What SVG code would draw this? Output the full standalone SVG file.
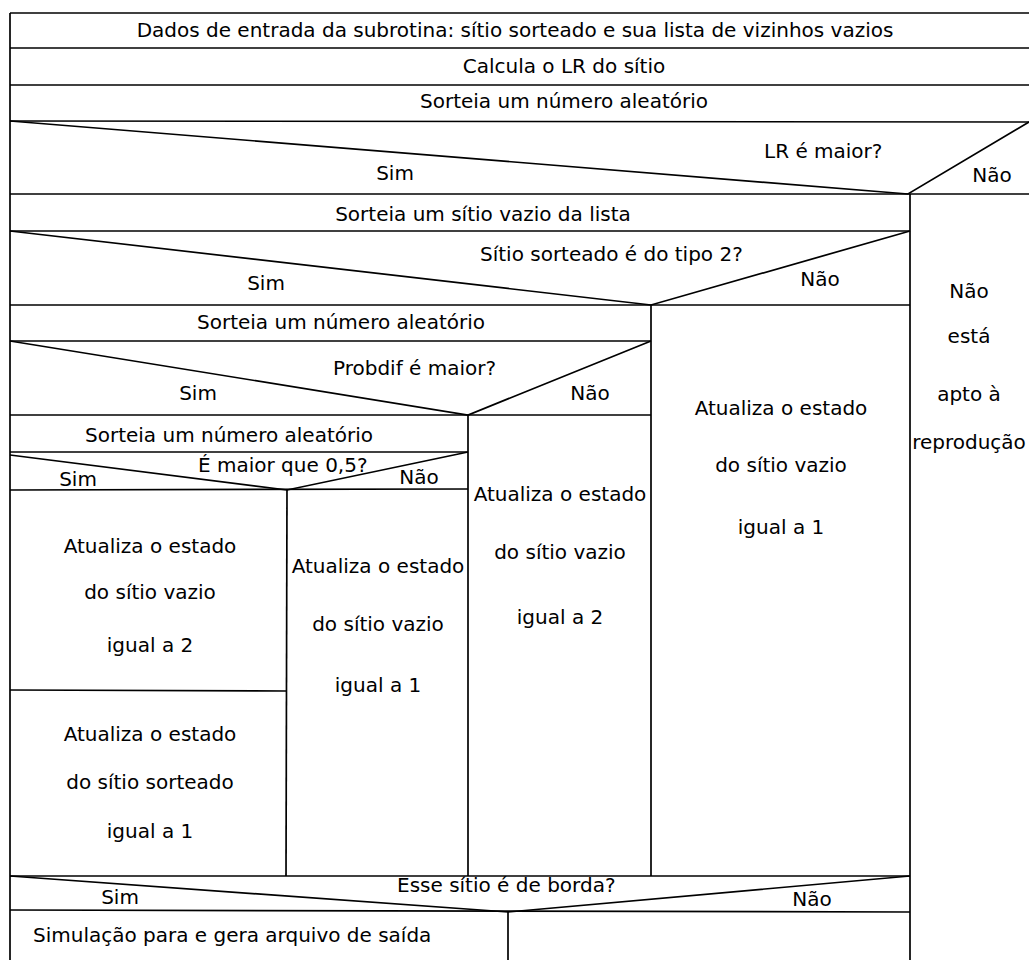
<svg xmlns="http://www.w3.org/2000/svg" width="1029" height="960" viewBox="0 0 1029 960">
<style>
line,polyline{stroke:#000;stroke-width:1.7;fill:none}
text{font-family:"DejaVu Sans","Liberation Sans",sans-serif;font-size:20px;fill:#000}
.m{text-anchor:middle}
</style>
<rect width="1029" height="960" fill="#fff"/>
<g id="frame">
<line x1="10" y1="13" x2="10" y2="960"/>
<line x1="10" y1="13" x2="1029" y2="13"/>
</g>
<g id="input">
<line x1="10" y1="48" x2="1029" y2="48"/>
<text class="m" x="515" y="37">Dados de entrada da subrotina: sítio sorteado e sua lista de vizinhos vazios</text>
</g>
<g id="calc-lr">
<line x1="10" y1="85" x2="1029" y2="85"/>
<text class="m" x="564" y="73">Calcula o LR do sítio</text>
</g>
<g id="random-1">
<line x1="10" y1="121" x2="1029" y2="122"/>
<text class="m" x="564" y="108">Sorteia um número aleatório</text>
</g>
<g id="dec-lr">
<polyline points="10,121 908,194 1029,122"/>
<line x1="10" y1="194" x2="1029" y2="194"/>
<text x="764" y="158">LR é maior?</text>
<text class="m" x="395" y="180">Sim</text>
<text class="m" x="992" y="182">Não</text>
</g>
<g id="not-apt">
<line x1="910" y1="194" x2="910" y2="960"/>
<text class="m" x="969" y="298">Não</text>
<text class="m" x="969" y="343">está</text>
<text class="m" x="969" y="401">apto à</text>
<text class="m" x="969" y="449">reprodução</text>
</g>
<g id="pick-empty">
<line x1="10" y1="231" x2="910" y2="231"/>
<text class="m" x="483" y="221">Sorteia um sítio vazio da lista</text>
</g>
<g id="dec-type2">
<polyline points="10,231 651,305 910,231"/>
<line x1="10" y1="305" x2="910" y2="305"/>
<text x="480" y="261">Sítio sorteado é do tipo 2?</text>
<text class="m" x="266" y="290">Sim</text>
<text class="m" x="820" y="286">Não</text>
</g>
<g id="random-2">
<line x1="10" y1="341" x2="651" y2="341"/>
<text class="m" x="341" y="329">Sorteia um número aleatório</text>
</g>
<g id="dec-probdif">
<polyline points="10,341 468,415 651,341"/>
<line x1="10" y1="415" x2="651" y2="415"/>
<text x="333" y="375">Probdif é maior?</text>
<text class="m" x="198" y="400">Sim</text>
<text class="m" x="590" y="400">Não</text>
</g>
<g id="set-empty-1-right">
<line x1="651" y1="305" x2="651" y2="876"/>
<text class="m" x="781" y="415">Atualiza o estado</text>
<text class="m" x="781" y="472">do sítio vazio</text>
<text class="m" x="781" y="534">igual a 1</text>
</g>
<g id="random-3">
<line x1="10" y1="452" x2="468" y2="452"/>
<text class="m" x="229" y="442">Sorteia um número aleatório</text>
</g>
<g id="dec-half">
<polyline points="10,455 287,490 468,452"/>
<line x1="10" y1="490" x2="468" y2="489"/>
<text x="198" y="472">É maior que 0,5?</text>
<text class="m" x="78" y="486">Sim</text>
<text class="m" x="419" y="484">Não</text>
</g>
<g id="set-empty-2-mid">
<line x1="468" y1="415" x2="468" y2="876"/>
<text class="m" x="560" y="501">Atualiza o estado</text>
<text class="m" x="560" y="559">do sítio vazio</text>
<text class="m" x="560" y="624">igual a 2</text>
</g>
<g id="set-empty-1-mid">
<line x1="287" y1="490" x2="286" y2="876"/>
<text class="m" x="378" y="573">Atualiza o estado</text>
<text class="m" x="378" y="631">do sítio vazio</text>
<text class="m" x="378" y="692">igual a 1</text>
</g>
<g id="set-empty-2-left">
<line x1="10" y1="690" x2="286" y2="691"/>
<text class="m" x="150" y="553">Atualiza o estado</text>
<text class="m" x="150" y="599">do sítio vazio</text>
<text class="m" x="150" y="652">igual a 2</text>
</g>
<g id="set-picked-1">
<text class="m" x="150" y="741">Atualiza o estado</text>
<text class="m" x="150" y="789">do sítio sorteado</text>
<text class="m" x="150" y="838">igual a 1</text>
</g>
<g id="dec-border">
<line x1="10" y1="876" x2="910" y2="876"/>
<polyline points="10,876 508,912 910,876"/>
<line x1="10" y1="910" x2="910" y2="912"/>
<text x="397" y="892">Esse sítio é de borda?</text>
<text class="m" x="120" y="904">Sim</text>
<text class="m" x="812" y="906">Não</text>
</g>
<g id="stop-output">
<line x1="508" y1="911" x2="508" y2="960"/>
<text x="33" y="942">Simulação para e gera arquivo de saída</text>
</g>
</svg>
